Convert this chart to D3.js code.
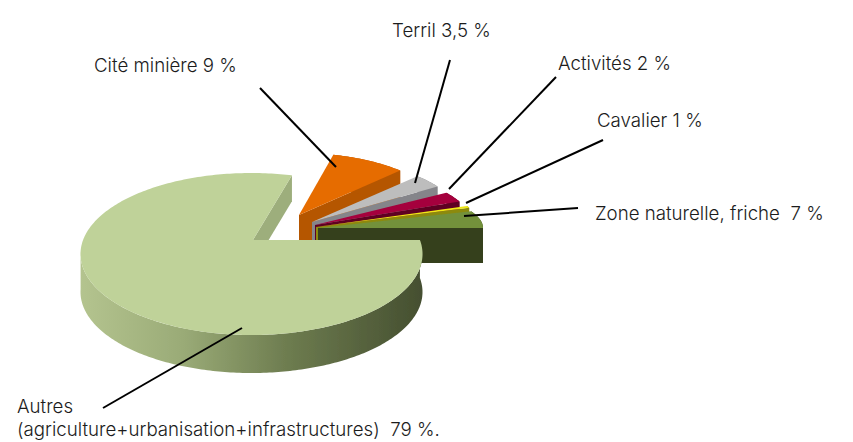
<!DOCTYPE html>
<html>
<head>
<meta charset="utf-8">
<script src="https://cdn.jsdelivr.net/npm/d3@7"></script>
<style>
html, body { margin: 0; background: #fff; }
svg { display: block; }
text { font-family: Inter, Lato, sans-serif; font-weight: 300; font-size: 18.7px; fill: #1c1c1c; white-space: pre; }
</style>
</head>
<body>
<div id="chart"></div>
<script>
// data (they add up to 101,5 in the source too)
var categories = ["Autres", "Cité minière", "Terril", "Activités", "Cavalier", "Zone naturelle"];
var shares = [79, 9, 3.5, 2, 1, 7];
var labelLines = [
  ["Autres", "(agriculture+urbanisation+infrastructures)  79 %."],
  ["Cité minière 9 %"],
  ["Terril 3,5 %"],
  ["Activités 2 %"],
  ["Cavalier 1 %"],
  ["Zone naturelle, friche  7 %"]
];
var topColors = ["#bfd299", "#e66c00", "#bdbdbd", "#a5003c", "#efe816", "#73913a"];
var wallColors = ["#9dae7c", "#b55600", "#85858a", "#5e0022", "#8c8a10", "#36411b"];

// styles and layout
var width = 853, height = 442;
var deg = Math.PI / 180;
// one entry per slice: exploded origin, rim radii, rim shift (perspective), depth
var sliceLayout = [
  {x: 253, y: 240, rx: 171, ry: 81, sx: -1.5, sy: 14, depth: 26},
  {x: 299, y: 215, rx: 145, ry: 62, sx: 0, sy: 0, depth: 35},
  {x: 312, y: 222, rx: 151, ry: 64, sx: 0, sy: 0, depth: 35},
  {x: 315, y: 225, rx: 158, ry: 58, sx: 0, sy: 0, depth: 35},
  {x: 316, y: 227, rx: 165, ry: 52, sx: 0, sy: 0, depth: 35},
  {x: 318, y: 228, rx: 165, ry: 45, sx: 0, sy: 0, depth: 35}
];
var rimDepth = 38; // front wall of the big slice
var labelPos = [[17, 413], [94, 72], [392, 37], [558, 70], [597, 127], [595, 220]];
var leaders = [
  [[103, 408], [242, 328]],
  [[260, 88], [336, 167]],
  [[450, 60], [415, 183]],
  [[556, 77], [449, 189]],
  [[603, 140], [466, 203]],
  [[578, 208], [464, 216]]
];

var svg = d3.select("#chart").append("svg")
  .attr("width", width)
  .attr("height", height);

var defs = svg.append("defs");
defs.append("filter").attr("id", "soft")
  .append("feGaussianBlur").attr("stdDeviation", 0.45);

var wallGrad = defs.append("linearGradient").attr("id", "wallGrad")
  .attr("gradientUnits", "userSpaceOnUse")
  .attr("x1", 80).attr("x2", 422).attr("y1", 0).attr("y2", 0);
wallGrad.append("stop").attr("offset", "0").attr("stop-color", "#b4c48f");
wallGrad.append("stop").attr("offset", "0.3").attr("stop-color", "#9aab77");
wallGrad.append("stop").attr("offset", "0.6").attr("stop-color", "#6e7d50");
wallGrad.append("stop").attr("offset", "1").attr("stop-color", "#454f30");

var pie = d3.pie().sort(null).startAngle(90 * deg).endAngle(450 * deg);
var slices = pie(shares);

// the tilted pie skews its angles, pie angle -> angle seen on the rim
var seenAngle = d3.scaleLinear()
  .domain([90 * deg, 370 * deg, 414.4 * deg, 421.5 * deg, 425 * deg, 450 * deg])
  .range([80 * deg, 373.5 * deg, 416 * deg, 426 * deg, 428 * deg, 450 * deg]);

function rimPoint(s, a) {
  return [s.x + s.sx + s.rx * Math.sin(a), s.y + s.sy - s.ry * Math.cos(a)];
}

function rimPoints(s, a0, a1) {
  var n = Math.max(2, Math.ceil((a1 - a0) / deg));
  return d3.range(n + 1).map(function (i) {
    return rimPoint(s, a0 + (a1 - a0) * i / n);
  });
}

var line = d3.line();
var pieGroup = svg.append("g").attr("filter", "url(#soft)");

function drawSlice(i) {
  var s = sliceLayout[i];
  var a0 = seenAngle(slices[i].startAngle);
  var a1 = seenAngle(slices[i].endAngle);
  var origin = [s.x, s.y];

  // radial face at the clockwise end of the slice
  var faceEnd = rimPoint(s, a1);
  pieGroup.append("path")
    .attr("d", line([origin, faceEnd, [faceEnd[0], faceEnd[1] + s.depth], [s.x, s.y + s.depth]]) + "Z")
    .attr("fill", wallColors[i]);

  if (i === 0) {
    // front wall, only the part of the rim that faces us
    var front = rimPoints(s, a0, 272 * deg);
    var lower = front.map(function (p) { return [p[0], p[1] + rimDepth]; }).reverse();
    pieGroup.append("path")
      .attr("d", line(front.concat(lower)) + "Z")
      .attr("fill", "url(#wallGrad)");
  } else {
    var outer = rimPoints(s, a0, a1);
    var under = outer.map(function (p) { return [p[0], p[1] + s.depth]; }).reverse();
    pieGroup.append("path")
      .attr("d", line(outer.concat(under)) + "Z")
      .attr("fill", wallColors[i]);
  }

  pieGroup.append("path")
    .attr("d", line([origin].concat(rimPoints(s, a0, a1))) + "Z")
    .attr("fill", topColors[i]);
}

// back slices first, the big one goes over them
d3.range(1, categories.length).forEach(drawSlice);
drawSlice(0);

svg.append("g").attr("filter", "url(#soft)")
  .selectAll("path")
  .data(leaders)
  .enter().append("path")
  .attr("d", function (d) { return line(d); })
  .attr("stroke", "#000")
  .attr("stroke-width", 2)
  .attr("fill", "none");

var labels = svg.append("g").attr("class", "labels")
  .selectAll("text")
  .data(labelLines)
  .enter().append("text")
  .attr("x", function (d, i) { return labelPos[i][0]; })
  .attr("y", function (d, i) { return labelPos[i][1]; });

labels.selectAll("tspan")
  .data(function (d) { return d; })
  .enter().append("tspan")
  .attr("x", function () { return d3.select(this.parentNode).attr("x"); })
  .attr("dy", function (d, i) { return i ? 23 : 0; })
  .text(function (d) { return d; });
</script>
</body>
</html>
